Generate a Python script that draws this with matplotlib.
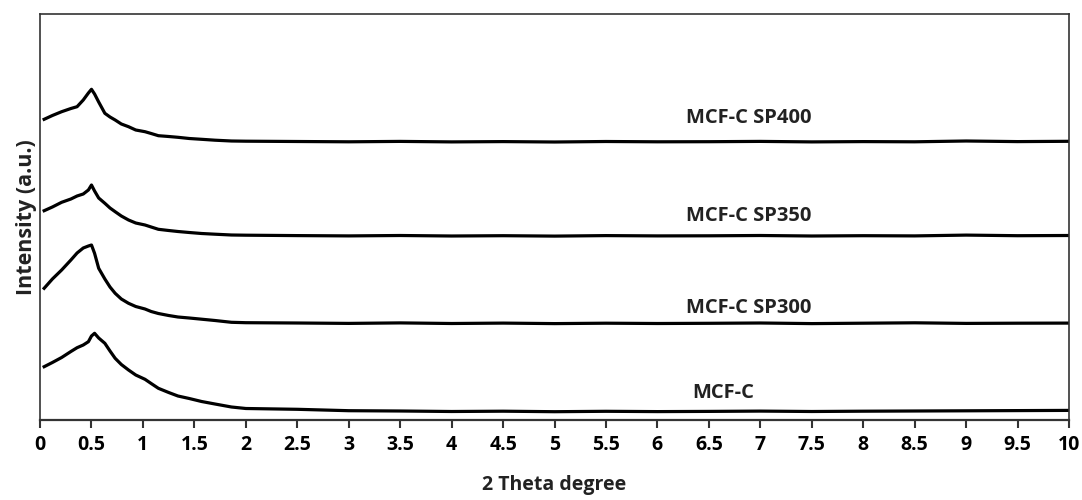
import numpy as np
import matplotlib.pyplot as plt

plt.rcParams['font.family'] = ['Open Sans', 'DejaVu Sans']

# 2 Theta values (degree)
x_peak = [0.04, 0.12, 0.21, 0.30, 0.36, 0.42, 0.47, 0.50, 0.53, 0.57, 0.63,
          0.68, 0.73, 0.79, 0.86, 0.93, 1.02, 1.08, 1.15, 1.25, 1.34, 1.45,
          1.57, 1.70, 1.86, 2.0]
x_tail = [2.5, 3.0, 3.5, 4.0, 4.5, 5.0, 5.5, 6.0, 6.5, 7.0, 7.5, 8.0, 8.5,
          9.0, 9.5, 10.0]

# Intensities (a.u., stacked offsets included)
sp400_peak = [300.7, 304.5, 308.3, 311.5, 313.3, 320.0, 327.0, 330.7, 326.0,
              318.0, 306.7, 303.0, 300.0, 296.0, 293.3, 290.0, 288.3, 286.5,
              284.3, 283.5, 282.7, 281.5, 280.7, 279.8, 279.0, 278.8]
sp400_tail = [278.5, 278.2, 278.6, 278.1, 278.4, 278.0, 278.5, 278.2, 278.3,
              278.6, 278.1, 278.4, 278.2, 279.0, 278.4, 278.7]

sp350_peak = [209.3, 213.0, 217.7, 221.0, 224.0, 226.0, 230.0, 235.0, 229.0,
              222.0, 216.7, 212.0, 208.3, 204.0, 200.0, 197.0, 195.0, 193.0,
              190.7, 189.5, 188.5, 187.5, 186.5, 185.8, 185.0, 184.8]
sp350_tail = [184.4, 184.1, 184.5, 184.0, 184.3, 183.9, 184.4, 184.1, 184.2,
              184.5, 184.0, 184.3, 184.1, 184.9, 184.3, 184.5]

sp300_peak = [131.7, 141.0, 150.0, 160.0, 167.0, 172.0, 174.0, 175.0, 166.7,
              151.7, 141.0, 133.0, 126.7, 121.0, 116.7, 113.5, 111.0, 108.5,
              106.5, 104.5, 103.0, 102.0, 100.8, 99.5, 97.7, 97.3]
sp300_tail = [97.0, 96.6, 97.1, 96.5, 96.9, 96.4, 96.8, 96.5, 96.7, 97.0,
              96.4, 96.8, 97.2, 96.6, 96.8, 96.9]

mcfc_peak = [53.3, 57.5, 62.5, 68.5, 72.3, 75.0, 78.3, 84.0, 86.7, 82.0,
             76.7, 69.0, 61.7, 55.5, 50.0, 45.0, 40.7, 36.5, 31.7, 27.5,
             24.0, 21.5, 18.5, 16.0, 13.0, 11.5]
mcfc_tail = [10.7, 9.3, 9.0, 8.5, 8.8, 8.3, 8.7, 8.4, 8.6, 8.9, 8.5, 8.8,
             9.0, 9.2, 9.4, 9.6]

labels = ["MCF-C SP400", "MCF-C SP350", "MCF-C SP300", "MCF-C"]
label_x = [6.28, 6.28, 6.28, 6.34]
label_y = [302, 204, 112, 27]

curves = [(sp400_peak, sp400_tail), (sp350_peak, sp350_tail),
          (sp300_peak, sp300_tail), (mcfc_peak, mcfc_tail)]

fig = plt.figure(figsize=(10.82, 5.0), dpi=100)
ax = fig.add_axes([0.037, 0.16, 0.951, 0.812])

x_all = x_peak + x_tail
for (yp, yt), lab, lx, ly in zip(curves, labels, label_x, label_y):
    ax.plot(x_all, yp + yt, color='black', lw=2.3, solid_joinstyle='round')
    ax.text(lx, ly, lab, fontsize=14.5, fontweight='bold', va='center',
            ha='left', color='#222222')

ax.set_xlim(0, 10)
ax.set_ylim(0, 406)
ax.set_xticks(np.arange(0, 10.01, 0.5))
ax.set_xticklabels(["0", "0.5", "1", "1.5", "2", "2.5", "3", "3.5", "4", "4.5",
                    "5", "5.5", "6", "6.5", "7", "7.5", "8", "8.5", "9", "9.5",
                    "10"])
ax.set_yticks([])
ax.tick_params(axis='x', direction='out', length=6, width=1.5, labelsize=14,
               pad=5, color='#333333')
for lbl in ax.get_xticklabels():
    lbl.set_fontweight('bold')
for sp in ax.spines.values():
    sp.set_linewidth(1.2)
    sp.set_color('#333333')
ax.spines['bottom'].set_linewidth(1.6)

ax.set_xlabel("2 Theta degree", fontsize=14, fontweight='bold', labelpad=14,
              color='#222222')
ax.set_ylabel("Intensity (a.u.)", fontsize=15.5, fontweight='bold', labelpad=2,
              color='#222222')

fig.savefig("out.png", dpi=100)
